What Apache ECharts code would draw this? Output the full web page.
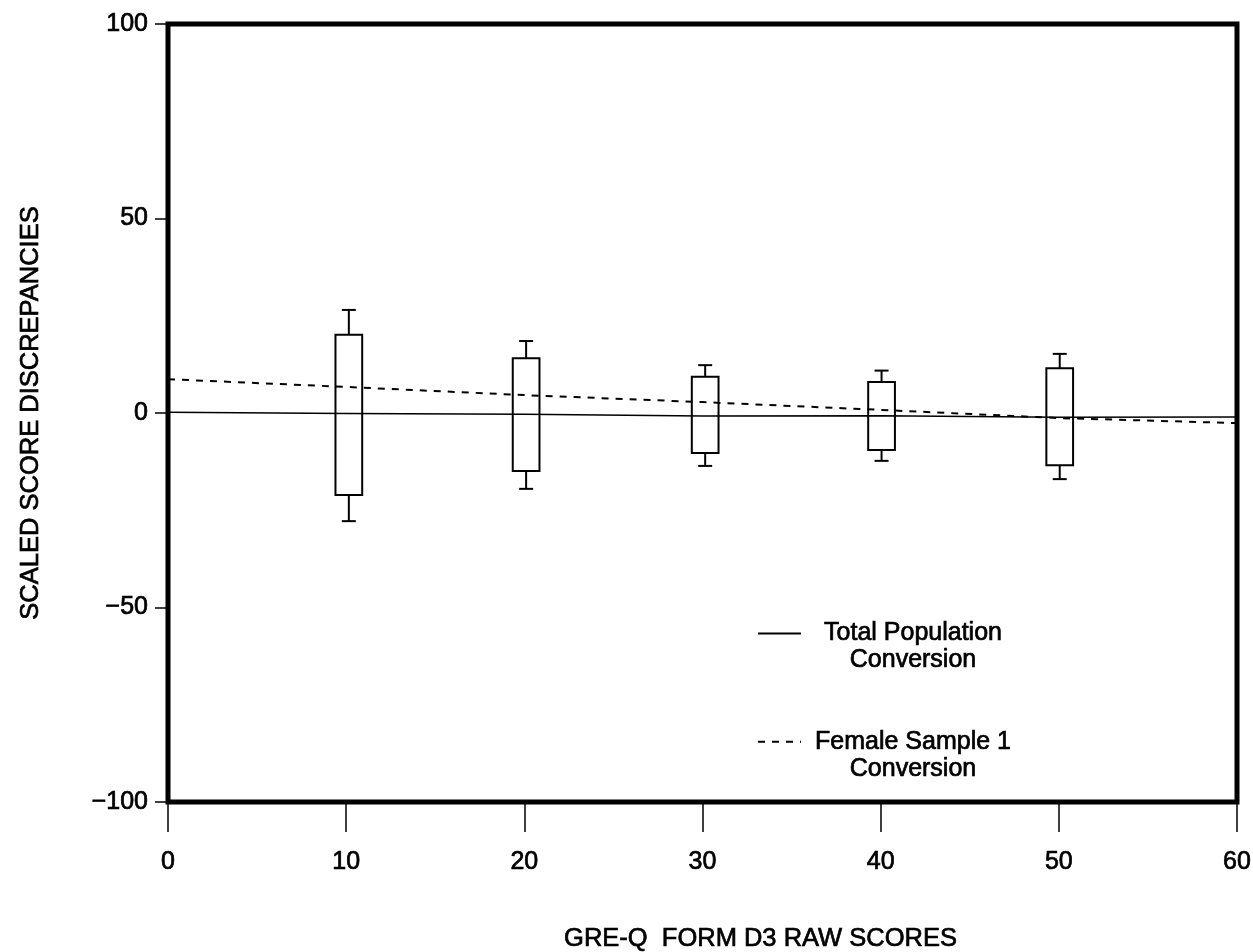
<!DOCTYPE html>
<html>
<head>
<meta charset="utf-8">
<script src="https://cdn.jsdelivr.net/npm/echarts@6/dist/echarts.min.js"></script>
<style>
  html, body { margin: 0; padding: 0; background: #fff; }
  #chart { width: 1253px; height: 952px; }
</style>
</head>
<body>
<div id="chart"></div>
<script>
// raw score positions of the line series
const rawScores = [0, 10, 20, 30, 40, 50, 60];
const totalPopulation = [0.2, -0.1, -0.3, -0.8, -0.7, -1.1, -1.0];
const femaleSample1 = [8.7, 6.7, 4.6, 2.8, 0.8, -1.3, -2.6];

// box plots of scaled score discrepancies
const boxX = [10.15, 20.1, 30.15, 40.05, 50.05];
const whiskerLow = [-27.8, -19.5, -13.6, -12.3, -17.0];
const boxLow = [-21.1, -14.9, -10.3, -9.5, -13.4];
const boxHigh = [20.1, 14.1, 9.3, 8.0, 11.5];
const whiskerHigh = [26.5, 18.5, 12.3, 10.9, 15.2];

const font = "'Liberation Sans', Arial, Helvetica, sans-serif";
// thickens the glyphs a little, like the scanned print
const ink = { textBorderColor: '#000', textBorderWidth: 0.7 };

let chart = echarts.init(document.getElementById('chart'));

const option = {
    backgroundColor: '#fff',
    animation: false,
    textStyle: { fontFamily: font, color: '#000' },
    grid: {
        left: 168,
        right: 16,
        top: 24,
        bottom: 150,
        outerBoundsMode: 'none',
        containLabel: false,
        show: true,
        borderColor: '#000',
        borderWidth: 5,
        backgroundColor: 'transparent'
    },
    legend: {
        orient: 'vertical',
        left: 752,
        top: 589,
        itemWidth: 43,
        itemHeight: 14,
        itemGap: 29,
        itemStyle: { opacity: 0, borderWidth: 0 },
        data: ['Total Population', 'Female Sample 1'],
        formatter: function (name) {
            return '{e|}\n{t|' + name + '}\n{t|Conversion}';
        },
        textStyle: {
            rich: {
                e: { lineHeight: 27, fontSize: 25 },
                t: Object.assign({ width: 214, align: 'center', lineHeight: 27, fontSize: 25, fontFamily: font, color: '#000' }, ink)
            }
        }
    },
    xAxis: {
        type: 'value',
        min: 0,
        max: 60,
        interval: 10,
        name: 'GRE-Q  FORM D3 RAW SCORES',
        nameLocation: 'middle',
        nameGap: 124,
        nameTextStyle: Object.assign({ fontSize: 25.5, color: '#000', padding: [0, 0, 0, 116] }, ink),
        axisLine: { show: false, onZero: false },
        axisTick: { show: true, length: 30, lineStyle: { color: '#000', width: 1.5 } },
        splitLine: { show: false },
        axisLabel: Object.assign({ margin: 48, fontSize: 25, color: '#000' }, ink)
    },
    yAxis: {
        type: 'value',
        min: -100,
        max: 100,
        interval: 50,
        name: 'SCALED SCORE DISCREPANCIES',
        nameLocation: 'middle',
        nameGap: 124,
        nameTextStyle: Object.assign({ fontSize: 25.5, color: '#000' }, ink),
        axisLine: { show: false, onZero: false },
        axisTick: { show: true, length: 13, lineStyle: { color: '#000', width: 1.5 } },
        splitLine: { show: false },
        axisLabel: Object.assign({
            margin: 20,
            fontSize: 25,
            color: '#000',
            formatter: function (v) { return String(v).replace('-', '\u2212'); }
        }, ink)
    },
    series: [
        {
            name: 'Total Population',
            type: 'line',
            symbol: 'none',
            data: rawScores.map((x, i) => [x, totalPopulation[i]]),
            lineStyle: { color: '#000', width: 1.5 },
            itemStyle: { color: '#000' },
            z: 3
        },
        {
            name: 'Female Sample 1',
            type: 'line',
            symbol: 'none',
            data: rawScores.map((x, i) => [x, femaleSample1[i]]),
            lineStyle: { color: '#000', width: 2, type: [7, 7] },
            itemStyle: { color: '#000' },
            z: 3
        },
        {
            name: 'boxes',
            type: 'custom',
            data: boxX.map((x, i) => [x, whiskerLow[i], boxLow[i], boxHigh[i], whiskerHigh[i]]),
            renderItem: function (params, api) {
                const x = api.value(0);
                const pLo = api.coord([x, api.value(1)]);
                const pQ1 = api.coord([x, api.value(2)]);
                const pQ3 = api.coord([x, api.value(3)]);
                const pHi = api.coord([x, api.value(4)]);
                const half = api.size([1.5, 0])[0] / 2;
                const cap = 7;
                const st = { stroke: '#000', lineWidth: 2, fill: null };
                return {
                    type: 'group',
                    children: [
                        { type: 'rect', shape: { x: pQ1[0] - half, y: pQ3[1], width: half * 2, height: pQ1[1] - pQ3[1] }, style: st },
                        { type: 'line', shape: { x1: pQ3[0], y1: pQ3[1], x2: pHi[0], y2: pHi[1] }, style: st },
                        { type: 'line', shape: { x1: pHi[0] - cap, y1: pHi[1], x2: pHi[0] + cap, y2: pHi[1] }, style: st },
                        { type: 'line', shape: { x1: pQ1[0], y1: pQ1[1], x2: pLo[0], y2: pLo[1] }, style: st },
                        { type: 'line', shape: { x1: pLo[0] - cap, y1: pLo[1], x2: pLo[0] + cap, y2: pLo[1] }, style: st }
                    ]
                };
            },
            z: 4
        }
    ]
};

chart.setOption(option);
window.addEventListener('resize', function () {
    chart.resize();
});
</script>
</body>
</html>
